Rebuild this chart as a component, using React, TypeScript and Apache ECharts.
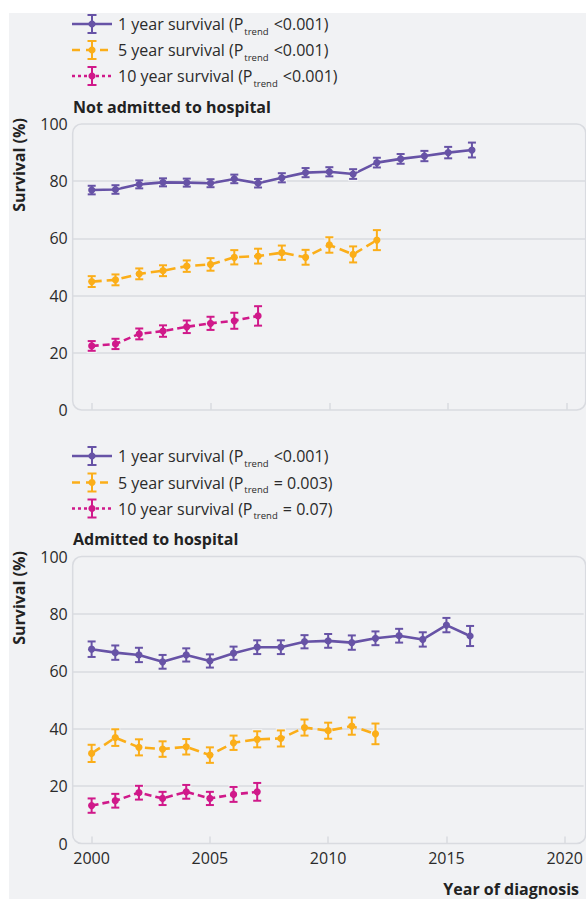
import React, { useEffect, useRef } from "react";
import * as echarts from "echarts";

// ---- data ----
const years = [2000, 2001, 2002, 2003, 2004, 2005, 2006, 2007, 2008, 2009, 2010, 2011, 2012, 2013, 2014, 2015, 2016];
const xTicks = [2000, 2005, 2010, 2015, 2020];

// Not admitted to hospital
const notAdm1 = [76.9, 77.1, 78.9, 79.6, 79.5, 79.3, 80.8, 79.3, 81.2, 83.0, 83.3, 82.5, 86.5, 87.8, 88.8, 90.0, 90.9];
const notAdm1Err = [1.5, 1.5, 1.4, 1.4, 1.4, 1.4, 1.5, 1.5, 1.6, 1.6, 1.6, 1.7, 1.7, 1.7, 1.8, 2.0, 2.6];
const notAdm5 = [44.9, 45.5, 47.6, 48.7, 50.3, 50.9, 53.4, 53.8, 55.0, 53.4, 57.7, 54.4, 59.4];
const notAdm5Err = [1.9, 1.9, 1.9, 1.9, 2.0, 2.2, 2.5, 2.6, 2.5, 2.6, 2.7, 2.8, 3.5];
const notAdm10 = [22.4, 23.1, 26.6, 27.6, 29.1, 30.3, 31.2, 32.9];
const notAdm10Err = [1.7, 1.8, 1.9, 2.0, 2.2, 2.3, 2.8, 3.4];

// Admitted to hospital
const adm1 = [67.7, 66.5, 65.7, 63.3, 65.7, 63.6, 66.3, 68.4, 68.4, 70.3, 70.6, 70.0, 71.5, 72.4, 71.1, 76.1, 72.3];
const adm1Err = [2.7, 2.5, 2.5, 2.4, 2.3, 2.3, 2.3, 2.4, 2.4, 2.3, 2.4, 2.5, 2.4, 2.4, 2.5, 2.5, 3.5];
const adm5 = [31.4, 36.9, 33.5, 32.9, 33.7, 30.8, 35.1, 36.3, 36.6, 40.4, 39.3, 40.9, 38.2];
const adm5Err = [3.0, 2.9, 2.8, 2.7, 2.7, 2.7, 2.5, 2.8, 2.8, 2.8, 2.8, 3.0, 3.6];
const adm10 = [13.2, 14.9, 17.7, 15.7, 18.0, 15.7, 17.1, 18.0];
const adm10Err = [2.5, 2.4, 2.4, 2.3, 2.4, 2.3, 2.6, 3.1];

const seriesNames = ["1 year survival", "5 year survival", "10 year survival"];
const topPTrend = ["<0.001", "<0.001", "<0.001"];
const bottomPTrend = ["<0.001", "= 0.003", "= 0.07"];
const panelTitles = ["Not admitted to hospital", "Admitted to hospital"];

// ---- styles ----
const COLORS = ["#6753a6", "#fbae19", "#d0198a"];
const DASHES: any[] = ["solid", [10, 5], [7, 4]];
const LEGEND_DASHES: any[] = [null, [8, 6], [3, 3]];
const BG = "#f1f2f4";
const GRID_C = "#d9dbe0";
const FONT = "'Open Sans', 'Noto Sans', sans-serif";
const TXT = "#2b2b2b";
const FS = 16;

function makeRender(color: string) {
  return (params: any, api: any) => {
    const x = api.value(0);
    const c = api.coord([x, api.value(1)]);
    const lo = api.coord([x, api.value(2)]);
    const hi = api.coord([x, api.value(3)]);
    const cw = 4;
    const seg = (x1: number, y1: number, x2: number, y2: number, stroke: string, lw: number) => ({
      type: "line",
      shape: { x1, y1, x2, y2 },
      style: { stroke, lineWidth: lw },
    });
    return {
      type: "group",
      children: [
        seg(c[0], hi[1], c[0], lo[1], BG, 5),
        seg(c[0] - cw - 1, hi[1], c[0] + cw + 1, hi[1], BG, 4.5),
        seg(c[0] - cw - 1, lo[1], c[0] + cw + 1, lo[1], BG, 4.5),
        seg(c[0], hi[1], c[0], lo[1], color, 2),
        seg(c[0] - cw, hi[1], c[0] + cw, hi[1], color, 2),
        seg(c[0] - cw, lo[1], c[0] + cw, lo[1], color, 2),
        { type: "circle", shape: { cx: c[0], cy: c[1], r: 3.6 }, style: { fill: color } },
      ],
    };
  };
}

function buildSeries(panel: number, vals: number[][], errs: number[][]) {
  const out: any[] = [];
  vals.forEach((v, k) => {
    const pts = v.map((val, i) => [years[i], val]);
    out.push({
      type: "line",
      name: seriesNames[k],
      xAxisIndex: panel,
      yAxisIndex: panel,
      data: pts,
      showSymbol: false,
      symbol: "none",
      lineStyle: { color: COLORS[k], width: 2.6, type: DASHES[k] },
      z: 2,
    });
    out.push({
      type: "custom",
      xAxisIndex: panel,
      yAxisIndex: panel,
      data: v.map((val, i) => [years[i], val, val - errs[k][i], val + errs[k][i]]),
      encode: { x: 0, y: [1, 2, 3] },
      renderItem: makeRender(COLORS[k]),
      z: 3,
    });
  });
  return out;
}

export default function App() {
  const ref = useRef<HTMLDivElement>(null);
  useEffect(() => {
    if (!ref.current) return;
    const chart = echarts.init(ref.current, null, { renderer: "svg" });

    const grids = [
      { left: 72.7, top: 124, width: 514, height: 286 },
      { left: 72.7, top: 556.5, width: 514, height: 287 },
    ];

    const xAxes = grids.map((g, i) => ({
      type: "value",
      gridIndex: i,
      min: 1999.2,
      max: 2020.8,
      axisLine: { show: false },
      splitLine: { show: false },
      axisTick: {
        show: true,
        inside: true,
        length: 7,
        customValues: xTicks,
        lineStyle: { color: GRID_C, width: 1.5 },
      },
      axisLabel: {
        show: i === 1,
        customValues: xTicks,
        margin: 6,
        color: TXT,
        fontSize: FS,
        fontFamily: FONT,
        formatter: (v: number) => String(Math.round(v)),
      },
    }));

    const yAxes = grids.map((g, i) => ({
      type: "value",
      gridIndex: i,
      min: 0,
      max: 100,
      interval: 20,
      axisLine: { show: false },
      axisTick: { show: false },
      splitLine: {
        show: true,
        showMinLine: false,
        showMaxLine: false,
        lineStyle: { color: GRID_C, width: 1.5 },
      },
      axisLabel: { color: TXT, fontSize: FS, fontFamily: FONT, margin: 5 },
    }));

    const series = [
      ...buildSeries(0, [notAdm1, notAdm5, notAdm10], [notAdm1Err, notAdm5Err, notAdm10Err]),
      ...buildSeries(1, [adm1, adm5, adm10], [adm1Err, adm5Err, adm10Err]),
    ];

    const graphics: any[] = [];
    // frames
    grids.forEach((g) => {
      graphics.push({
        type: "rect",
        shape: { x: g.left, y: g.top, width: 513, height: g.height, r: 9 },
        style: { fill: "none", stroke: GRID_C, lineWidth: 1.5 },
        z: 1,
        silent: true,
      });
    });
    // legends
    const legendRows = [
      { ys: [24, 50, 76], p: topPTrend },
      { ys: [456, 482.5, 508.5], p: bottomPTrend },
    ];
    legendRows.forEach((lr) => {
      lr.ys.forEach((y, k) => {
        graphics.push({
          type: "line",
          shape: { x1: 72, y1: y, x2: 112, y2: y },
          style: { stroke: COLORS[k], lineWidth: 2.4, lineDash: LEGEND_DASHES[k] || undefined },
          z: 5,
        });
        graphics.push({
          type: "line",
          shape: { x1: 92, y1: y - 9, x2: 92, y2: y + 9 },
          style: { stroke: COLORS[k], lineWidth: 2 },
          z: 5,
        });
        graphics.push({
          type: "line",
          shape: { x1: 87.5, y1: y - 9, x2: 96.5, y2: y - 9 },
          style: { stroke: COLORS[k], lineWidth: 2 },
          z: 5,
        });
        graphics.push({
          type: "line",
          shape: { x1: 87.5, y1: y + 9, x2: 96.5, y2: y + 9 },
          style: { stroke: COLORS[k], lineWidth: 2 },
          z: 5,
        });
        graphics.push({
          type: "circle",
          shape: { cx: 92, cy: y, r: 3.6 },
          style: { fill: COLORS[k] },
          z: 5,
        });
        graphics.push({
          type: "text",
          x: 118,
          y: y,
          z: 5,
          style: {
            text: `{m|${seriesNames[k]} (P}{s|trend}{m| ${lr.p[k]})}`,
            verticalAlign: "middle",
            align: "left",
            rich: {
              m: { fontSize: FS, fontFamily: FONT, fill: TXT, lineHeight: 20 },
              s: { fontSize: 9.5, fontFamily: FONT, fill: TXT, lineHeight: 10, padding: [14, 1, 0, 1] },
            },
          },
        });
      });
    });
    // panel titles
    [107, 538.5].forEach((y, i) => {
      graphics.push({
        type: "text",
        x: 73,
        y,
        z: 5,
        style: {
          text: panelTitles[i],
          fontSize: FS,
          fontWeight: "bold",
          fontFamily: FONT,
          fill: "#222",
          verticalAlign: "middle",
        },
      });
    });
    // y axis names
    [165, 598].forEach((y) => {
      graphics.push({
        type: "text",
        x: 19,
        y,
        rotation: Math.PI / 2,
        z: 5,
        style: {
          text: "Survival (%)",
          fontSize: FS,
          fontWeight: "bold",
          fontFamily: FONT,
          fill: "#222",
          align: "center",
          verticalAlign: "middle",
        },
      });
    });
    // x axis name
    graphics.push({
      type: "text",
      x: 579,
      y: 889,
      z: 5,
      style: {
        text: "Year of diagnosis",
        fontSize: FS,
        fontWeight: "bold",
        fontFamily: FONT,
        fill: "#222",
        align: "right",
        verticalAlign: "middle",
      },
    });

    chart.setOption({
      animation: false,
      backgroundColor: "transparent",
      grid: grids,
      xAxis: xAxes,
      yAxis: yAxes,
      series,
      graphic: graphics,
    });
    return () => chart.dispose();
  }, []);

  return (
    <>
      <div
        style={{ position: "absolute", left: 9, top: 13, width: 577, height: 886, background: BG }}
      />
      <div ref={ref} style={{ position: "absolute", left: 0, top: 0, width: 586, height: 899 }} />
    </>
  );
}
